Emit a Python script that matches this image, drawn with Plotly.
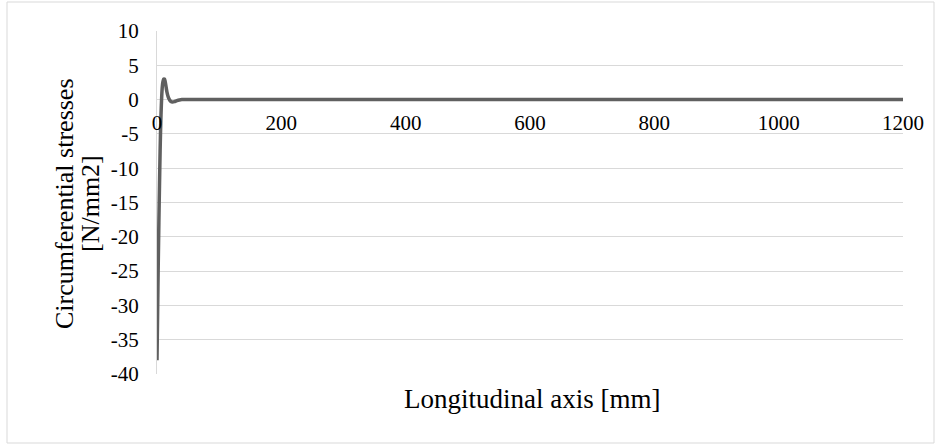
import plotly.graph_objects as go

# Data
x_mm = [0, 1, 2, 3, 4, 5, 6, 7, 8, 9, 10, 11, 12, 13, 14, 15, 16, 18, 20, 22, 25, 28, 32, 36, 40,
        50, 100, 200, 400, 600, 800, 1000, 1100, 1150, 1200]
stress = [-38, -31, -24, -18, -12.5, -7.5, -3.5, -0.8, 1.2, 2.3, 2.8, 3.0, 3.0, 2.7, 2.2, 1.6, 1.1, 0.4, 0.0, -0.25, -0.35, -0.3, -0.15, -0.05, 0.0,
          0.0, 0.0, 0.0, 0.0, 0.0, 0.0, 0.0, 0.0, 0.0, 0.0]
x_ticks = [0, 200, 400, 600, 800, 1000, 1200]
y_ticks = [10, 5, 0, -5, -10, -15, -20, -25, -30, -35, -40]

FONT = "Liberation Serif, Times New Roman, serif"
GRID = "#d9d9d9"

# plot-area pixel geometry
L, R, T, B = 157, 903, 31, 374
PW, PH = R - L, B - T


def px(xp):
    return (xp - L) / PW


def py(yp):
    return (B - yp) / PH


fig = go.Figure()
fig.add_trace(go.Scatter(x=x_mm, y=stress, mode="lines",
                         line=dict(color="#606060", width=3.5, shape="spline", smoothing=0.6),
                         showlegend=False, hoverinfo="skip"))

fig.update_layout(
    width=942, height=445,
    margin=dict(l=L, r=942 - R, t=T, b=445 - B),
    paper_bgcolor="white", plot_bgcolor="white",
    font=dict(family=FONT, size=21, color="#000000"),
    xaxis=dict(range=[0, 1200], tickvals=x_ticks, ticktext=[str(v) for v in x_ticks],
               showgrid=False, zeroline=False, showline=False,
               anchor="free", position=py(99), ticks="",
               ticklabelstandoff=9, tickfont=dict(family=FONT, size=21)),
    yaxis=dict(range=[-40, 10], tickvals=y_ticks, ticktext=[str(v) for v in y_ticks],
               showgrid=True, gridcolor=GRID, gridwidth=1, zeroline=False,
               showline=True, linecolor=GRID, linewidth=1, ticks="",
               ticklabelstandoff=13, tickfont=dict(family=FONT, size=21)),
    annotations=[
        dict(text="Circumferential stresses", xref="paper", yref="paper",
             x=px(65), y=py(204), xanchor="center", yanchor="middle",
             textangle=-90, showarrow=False, font=dict(family=FONT, size=26)),
        dict(text="[N/mm2]", xref="paper", yref="paper",
             x=px(91), y=py(204), xanchor="center", yanchor="middle",
             textangle=-90, showarrow=False, font=dict(family=FONT, size=26)),
        dict(text="Longitudinal axis [mm]", xref="paper", yref="paper",
             x=px(532), y=py(399), xanchor="center", yanchor="middle",
             showarrow=False, font=dict(family=FONT, size=27)),
    ],
    shapes=[dict(type="rect", xref="paper", yref="paper",
                 x0=px(7), x1=px(934), y0=py(443), y1=py(2),
                 line=dict(color=GRID, width=1), layer="below")],
)

fig.write_html("out.html", config={"displayModeBar": False},
               post_script="document.body.style.margin='0';")
